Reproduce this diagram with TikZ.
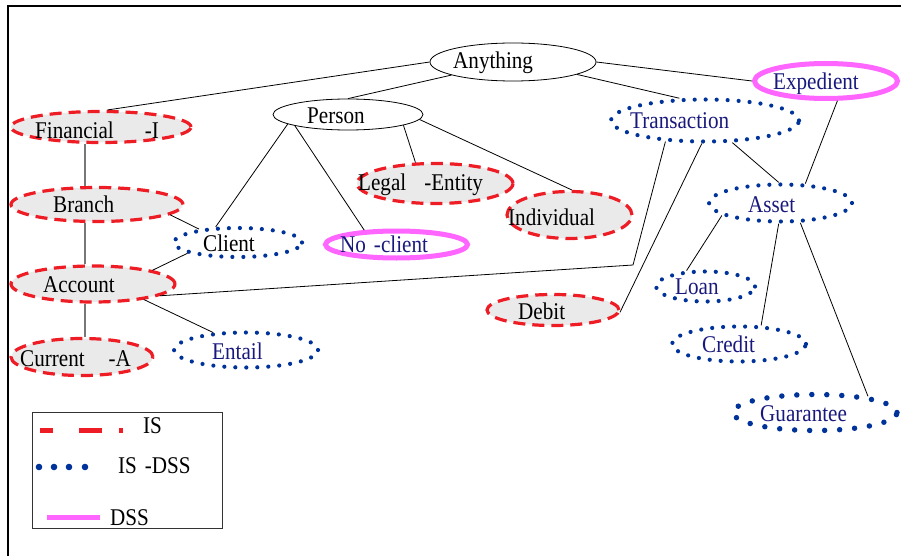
\documentclass[tikz,border=0pt]{standalone}
\usepackage{fontspec}
\setmainfont{Liberation Serif}[FakeStretch=0.88]
\usetikzlibrary{shapes.geometric}
\definecolor{isred}{RGB}{238,28,36}
\definecolor{isfill}{RGB}{234,234,234}
\definecolor{dotblue}{RGB}{0,51,153}
\definecolor{dsspink}{RGB}{255,102,255}
\definecolor{navytext}{RGB}{25,25,125}
\definecolor{stemgray}{RGB}{120,120,120}
\begin{document}
\begin{tikzpicture}[x=1pt,y=-1pt,
  dims/.style 2 args={ellipse, inner sep=0pt, minimum width=#1pt, minimum height=#2pt},
  plainnode/.style={draw=black, line width=0.8pt, fill=white},
  isnode/.style={draw=isred, line width=3.2pt, dash pattern=on 12pt off 7pt, fill=isfill},
  isdssnode/.style={draw=dotblue, line width=4.2pt, dash pattern=on 0pt off 11pt, line cap=round},
  bigdots/.style={draw=dotblue, line width=5.5pt, dash pattern=on 0pt off 15pt, line cap=round},
  dssnode/.style={draw=dsspink, line width=5pt},
  txt/.style={inner sep=0pt, anchor=base west, font=\fontsize{24}{27}\selectfont},
  bluetxt/.style={txt, text=navytext},
  link/.style={draw=black, line width=0.8pt},
  stem/.style={draw=stemgray, line width=1.5pt}]
\useasboundingbox (0,0) rectangle (901,556);

% frame
\draw[line width=2pt] (8,556) -- (8,6) -- (901,6);

% concept ellipses
\node[dims={166}{38}, plainnode] (anything) at (513,62) {};
\node[dims={150}{31}, plainnode] (person) at (348,114.5) {};
\node[dims={180}{31}, isnode] (financial) at (101,127) {};
\node[dims={172}{34}, isnode] (branch) at (97,204.5) {};
\node[dims={164}{36}, isnode] (account) at (93,284) {};
\node[dims={142}{37}, isnode] (current) at (82,357) {};
\node[dims={128}{29}, isdssnode] (client) at (238,242.5) {};
\node[dims={142}{27}, dssnode] (noclient) at (396.5,244.5) {};
\node[dims={156}{40}, isnode] (legal) at (435,183.5) {};
\node[dims={125}{47}, isnode] (individual) at (569.5,215) {};
\node[dims={188}{42}, isdssnode] (transaction) at (705,120.5) {};
\node[dims={143}{35}, dssnode] (expedient) at (826,81) {};
\node[dims={143}{37}, isdssnode] (asset) at (780.5,203) {};
\node[dims={99}{30}, isdssnode] (loan) at (705.5,286.5) {};
\node[dims={134}{35}, isdssnode] (credit) at (739,344) {};
\node[dims={164}{36}, bigdots] (guarantee) at (815,412.5) {};
\node[dims={132}{31}, isnode] (debit) at (553,310) {};
\node[dims={144}{35}, isdssnode] (entail) at (246,350) {};

% labels
\node[txt] (anything-t) at (453,69) {Anything};
\node[txt] (person-t) at (307,124) {Person};
\node[txt] (financial-t) at (35,139) {Financial\hspace{31pt}-I};
\node[txt] (branch-t) at (53,212) {Branch};
\node[txt] (account-t) at (43,292) {Account};
\node[txt] (current-t) at (20,366) {Current\hspace{24pt}-A};
\node[txt] (client-t) at (203,251) {Client};
\node[bluetxt] (noclient-t) at (340,252) {No\hspace{8pt}-client};
\node[txt] (legal-t) at (358,190) {Legal\hspace{18pt}-Entity};
\node[txt] (individual-t) at (508,225) {Individual};
\node[bluetxt] (transaction-t) at (630,129) {Transaction};
\node[bluetxt] (expedient-t) at (773,90) {Expedient};
\node[bluetxt] (asset-t) at (748,212) {Asset};
\node[bluetxt] (loan-t) at (675,294) {Loan};
\node[txt] (debit-t) at (518,319) {Debit};
\node[bluetxt] (credit-t) at (702,352) {Credit};
\node[bluetxt] (guarantee-t) at (760,421) {Guarantee};
\node[bluetxt] (entail-t) at (212,359) {Entail};

% hierarchy links
\draw[link] (anything.180) -- (financial.69);
\draw[link] (anything.192) -- (person.90);
\draw[link] (anything.0) -- (expedient.180);
\draw[link] (anything.349) -- (transaction.139);
\draw[link] (person.189) -- (client.145);
\draw[link] (person.192) -- (noclient.156);
\draw[link] (person.349) -- (legal.133);
\draw[link] (person.356) -- (individual.85);
\draw[link] (branch.352) -- (client.161);
\draw[link] (account.13) -- (client.192);
\draw[link] (account.343) -- (entail.152);
\coordinate (bend) at (633,265);
\draw[link] (transaction.208) -- (bend) -- (account.350);
\draw[link] (transaction.262) -- (debit.358);
\draw[link] (transaction.321) -- (asset.95);
\draw[link] (expedient.300) -- (asset.38);
\draw[link] (asset.192) -- (loan.140);
\draw[link] (asset.265) -- (credit.40);
\draw[link] (asset.315) -- (guarantee.17);

% vertical chain on the left
\draw[stem] ([xshift=-16pt]financial.south) -- ([xshift=-12pt]branch.north);
\draw[stem] ([xshift=-12pt]branch.south) -- ([xshift=-8pt]account.north);
\draw[stem] ([xshift=-8pt]account.south) -- ([xshift=3pt]current.north);

% legend
\draw[draw=black!80, line width=1pt] (32,412) rectangle (222,528);
\draw[isred, line width=5pt, dash pattern=on 13pt off 26pt on 23pt off 17pt on 4pt] (40,430) -- (123,430);
\foreach \dx in {39,54,69,85} \fill[dotblue] (\dx,467) circle (3.3pt);
\draw[dsspink, line width=5pt] (47,517) -- (100,517);
\node[txt] (key-is) at (143,433) {IS};
\node[txt] (key-isdss) at (118,473) {IS\hspace{8pt}-DSS};
\node[txt] (key-dss) at (110,525) {DSS};
\end{tikzpicture}
\end{document}
